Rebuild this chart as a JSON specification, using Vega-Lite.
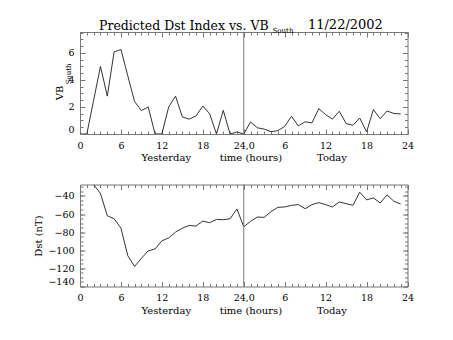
{
  "$schema": "https://vega.github.io/schema/vega-lite/v6.json",
  "padding": {"left": 33, "top": 18, "right": 0, "bottom": 4},
  "background": "white",
  "config": {
    "font": "DejaVu Serif",
    "view": {"stroke": null},
    "axis": {"grid": false, "labelFont": "DejaVu Serif", "titleFont": "DejaVu Serif", "labelFontSize": 9.5, "titleFontSize": 10, "titleFontWeight": "normal", "labelColor": "#000", "titleColor": "#000", "domainColor": "#777", "tickColor": "#777", "labelFlush": false, "labelOverlap": false, "labelBound": false},
    "concat": {"spacing": 20.5}
  },
  "datasets": {
    "vb": [
      {"h":0,"v":0},{"h":1,"v":0},{"h":2,"v":2.5},{"h":3,"v":5.0},{"h":4,"v":2.8},{"h":5,"v":6.07},{"h":6,"v":6.25},{"h":7,"v":4.3},{"h":8,"v":2.4},{"h":9,"v":1.73},{"h":10,"v":2.0},{"h":11,"v":0},{"h":12,"v":0},{"h":13,"v":2.0},{"h":14,"v":2.8},{"h":15,"v":1.26},{"h":16,"v":1.1},{"h":17,"v":1.33},{"h":18,"v":2.07},{"h":19,"v":1.5},{"h":20,"v":0},{"h":21,"v":1.75},{"h":22,"v":0},{"h":23,"v":0.15},
      {"h":24,"v":0},{"h":25,"v":0.89},{"h":26,"v":0.46},{"h":27,"v":0.36},{"h":28,"v":0.17},{"h":29,"v":0.25},{"h":30,"v":0.56},{"h":31,"v":1.31},{"h":32,"v":0.6},{"h":33,"v":0.9},{"h":34,"v":0.82},{"h":35,"v":1.87},{"h":36,"v":1.43},{"h":37,"v":1.1},{"h":38,"v":1.68},{"h":39,"v":0.78},{"h":40,"v":0.64},{"h":41,"v":1.18},{"h":42,"v":0.15},{"h":43,"v":1.81},{"h":44,"v":1.13},{"h":45,"v":1.7},{"h":46,"v":1.52},{"h":47,"v":1.48}
    ],
    "dst": [
      {"h":2,"v":-27.4},{"h":3,"v":-37.4},{"h":4,"v":-61.9},{"h":5,"v":-65.2},{"h":6,"v":-75.6},{"h":7,"v":-105.9},{"h":8,"v":-117.8},{"h":9,"v":-108.9},{"h":10,"v":-100.7},{"h":11,"v":-98.5},{"h":12,"v":-89.6},{"h":13,"v":-86.3},{"h":14,"v":-80},{"h":15,"v":-75.6},{"h":16,"v":-72.6},{"h":17,"v":-73.3},{"h":18,"v":-67.8},{"h":19,"v":-69.6},{"h":20,"v":-65.9},{"h":21,"v":-66.3},{"h":22,"v":-65.2},{"h":23,"v":-54.4},
      {"h":24,"v":-74.1},{"h":25,"v":-68.1},{"h":26,"v":-63.3},{"h":27,"v":-63.7},{"h":28,"v":-57.4},{"h":29,"v":-52.6},{"h":30,"v":-52.2},{"h":31,"v":-50.4},{"h":32,"v":-49.6},{"h":33,"v":-54.1},{"h":34,"v":-49.6},{"h":35,"v":-47.4},{"h":36,"v":-49.6},{"h":37,"v":-52.2},{"h":38,"v":-46.7},{"h":39,"v":-48.5},{"h":40,"v":-50.4},{"h":41,"v":-35.9},{"h":42,"v":-44.4},{"h":43,"v":-42.2},{"h":44,"v":-47.8},{"h":45,"v":-38.9},{"h":46,"v":-45.9},{"h":47,"v":-48.9}
    ],
    "marker": [{"h": 24}],
    "sub": [{"h": 29.75, "v": 7.6, "t": "South"}],
    "date": [{"h": 38.9, "v": 8.09, "t": "11/22/2002"}],
    "suby": [{"h": -1.6, "v": 4.45, "t": "South"}]
  },
  "vconcat": [
    {
      "width": 327.5,
      "height": 102,
      "title": {"text": "Predicted Dst Index vs. VB", "anchor": "start", "frame": "group", "dx": 19, "font": "DejaVu Serif", "fontSize": 12.5, "fontWeight": "normal", "color": "#000", "offset": -14},
      "resolve": {"axis": {"x": "independent", "y": "independent"}},
      "layer": [
        {
          "data": {"name": "vb"},
          "mark": {"type": "line", "color": "#333", "strokeWidth": 1, "clip": true},
          "encoding": {
            "x": {"field": "h", "type": "quantitative", "scale": {"domain": [0, 48], "nice": false, "zero": false},
                  "axis": {"orient": "bottom", "values": [0,6,12,18,24,30,36,42,48], "tickSize": -5, "labelPadding": 11, "labelExpr": "datum.value == 24 ? '24,0' : datum.value > 24 ? '' + (datum.value - 24) : '' + datum.value", "title": "Yesterday\u00a0\u00a0\u00a0\u00a0\u00a0\u00a0\u00a0\u00a0\u00a0time (hours)\u00a0\u00a0\u00a0\u00a0\u00a0\u00a0\u00a0\u00a0\u00a0\u00a0\u00a0Today", "titlePadding": 3}},
            "y": {"field": "v", "type": "quantitative", "scale": {"domain": [0, 7.54], "nice": false, "zero": false},
                  "axis": {"orient": "left", "values": [0,2,4,6], "tickSize": -5, "labelPadding": 11, "labelFlush": true, "title": "VB", "titleY": 60.5, "titlePadding": 3}}
          }
        },
        {
          "data": {"name": "marker"},
          "mark": {"type": "rule", "color": "#777", "strokeWidth": 1},
          "encoding": {
            "x": {"field": "h", "type": "quantitative", "scale": {"domain": [0, 48], "nice": false, "zero": false}, "axis": null}
          }
        },
        {
          "data": {"name": "vb"},
          "mark": {"type": "line", "opacity": 0},
          "encoding": {
            "x": {"field": "h", "type": "quantitative", "scale": {"domain": [0, 48], "nice": false, "zero": false},
                  "axis": {"orient": "bottom", "values": [0,1,2,3,4,5,6,7,8,9,10,11,12,13,14,15,16,17,18,19,20,21,22,23,24,25,26,27,28,29,30,31,32,33,34,35,36,37,38,39,40,41,42,43,44,45,46,47,48], "tickSize": -3, "labels": false, "domain": false, "title": null}},
            "y": {"field": "v", "type": "quantitative", "scale": {"domain": [0, 7.54], "nice": false, "zero": false},
                  "axis": {"orient": "left", "values": [0,0.5,1,1.5,2,2.5,3,3.5,4,4.5,5,5.5,6,6.5,7,7.5], "tickSize": -3, "labels": false, "domain": false, "title": null}}
          }
        },
        {
          "data": {"name": "vb"},
          "mark": {"type": "line", "opacity": 0},
          "encoding": {
            "x": {"field": "h", "type": "quantitative", "scale": {"domain": [0, 48], "nice": false, "zero": false},
                  "axis": {"orient": "top", "values": [0,6,12,18,24,30,36,42,48], "tickSize": -5, "labels": false, "domain": true, "title": null}},
            "y": {"field": "v", "type": "quantitative", "scale": {"domain": [0, 7.54], "nice": false, "zero": false},
                  "axis": {"orient": "right", "values": [0,2,4,6], "tickSize": -5, "labels": false, "domain": true, "title": null}}
          }
        },
        {
          "data": {"name": "vb"},
          "mark": {"type": "line", "opacity": 0},
          "encoding": {
            "x": {"field": "h", "type": "quantitative", "scale": {"domain": [0, 48], "nice": false, "zero": false},
                  "axis": {"orient": "top", "values": [0,1,2,3,4,5,6,7,8,9,10,11,12,13,14,15,16,17,18,19,20,21,22,23,24,25,26,27,28,29,30,31,32,33,34,35,36,37,38,39,40,41,42,43,44,45,46,47,48], "tickSize": -3, "labels": false, "domain": false, "title": null}},
            "y": {"field": "v", "type": "quantitative", "scale": {"domain": [0, 7.54], "nice": false, "zero": false},
                  "axis": {"orient": "right", "values": [0,0.5,1,1.5,2,2.5,3,3.5,4,4.5,5,5.5,6,6.5,7,7.5], "tickSize": -3, "labels": false, "domain": false, "title": null}}
          }
        },
        {
          "data": {"name": "sub"},
          "mark": {"type": "text", "font": "DejaVu Serif", "fontSize": 7, "color": "#000", "align": "center", "baseline": "middle"},
          "encoding": {
            "x": {"field": "h", "type": "quantitative", "scale": {"domain": [0, 48], "nice": false, "zero": false}, "axis": null},
            "y": {"field": "v", "type": "quantitative", "scale": {"domain": [0, 7.54], "nice": false, "zero": false}, "axis": null},
            "text": {"field": "t"}
          }
        },
        {
          "data": {"name": "date"},
          "mark": {"type": "text", "font": "DejaVu Serif", "fontSize": 13, "color": "#000", "align": "center", "baseline": "middle"},
          "encoding": {
            "x": {"field": "h", "type": "quantitative", "scale": {"domain": [0, 48], "nice": false, "zero": false}, "axis": null},
            "y": {"field": "v", "type": "quantitative", "scale": {"domain": [0, 7.54], "nice": false, "zero": false}, "axis": null},
            "text": {"field": "t"}
          }
        },
        {
          "data": {"name": "suby"},
          "mark": {"type": "text", "font": "DejaVu Serif", "fontSize": 7, "color": "#000", "align": "center", "baseline": "middle", "angle": 270},
          "encoding": {
            "x": {"field": "h", "type": "quantitative", "scale": {"domain": [0, 48], "nice": false, "zero": false}, "axis": null},
            "y": {"field": "v", "type": "quantitative", "scale": {"domain": [0, 7.54], "nice": false, "zero": false}, "axis": null},
            "text": {"field": "t"}
          }
        }
      ]
    },
    {
      "width": 327.5,
      "height": 102,
      "resolve": {"axis": {"x": "independent", "y": "independent"}},
      "layer": [
        {
          "data": {"name": "dst"},
          "mark": {"type": "line", "color": "#333", "strokeWidth": 1, "clip": true},
          "encoding": {
            "x": {"field": "h", "type": "quantitative", "scale": {"domain": [0, 48], "nice": false, "zero": false},
                  "axis": {"orient": "bottom", "values": [0,6,12,18,24,30,36,42,48], "tickSize": -5, "labelPadding": 11, "labelExpr": "datum.value == 24 ? '24,0' : datum.value > 24 ? '' + (datum.value - 24) : '' + datum.value", "title": "Yesterday\u00a0\u00a0\u00a0\u00a0\u00a0\u00a0\u00a0\u00a0\u00a0time (hours)\u00a0\u00a0\u00a0\u00a0\u00a0\u00a0\u00a0\u00a0\u00a0\u00a0\u00a0Today", "titlePadding": 3}},
            "y": {"field": "v", "type": "quantitative", "scale": {"domain": [-140, -27.4], "nice": false, "zero": false},
                  "axis": {"orient": "left", "values": [-140,-120,-100,-80,-60,-40], "tickSize": -5, "labelPadding": 11, "labelFlush": true, "title": "Dst (nT)", "titlePadding": 4}}
          }
        },
        {
          "data": {"name": "marker"},
          "mark": {"type": "rule", "color": "#777", "strokeWidth": 1},
          "encoding": {
            "x": {"field": "h", "type": "quantitative", "scale": {"domain": [0, 48], "nice": false, "zero": false}, "axis": null}
          }
        },
        {
          "data": {"name": "dst"},
          "mark": {"type": "line", "opacity": 0},
          "encoding": {
            "x": {"field": "h", "type": "quantitative", "scale": {"domain": [0, 48], "nice": false, "zero": false},
                  "axis": {"orient": "bottom", "values": [0,1,2,3,4,5,6,7,8,9,10,11,12,13,14,15,16,17,18,19,20,21,22,23,24,25,26,27,28,29,30,31,32,33,34,35,36,37,38,39,40,41,42,43,44,45,46,47,48], "tickSize": -3, "labels": false, "domain": false, "title": null}},
            "y": {"field": "v", "type": "quantitative", "scale": {"domain": [-140, -27.4], "nice": false, "zero": false},
                  "axis": {"orient": "left", "values": [-140,-135,-130,-125,-120,-115,-110,-105,-100,-95,-90,-85,-80,-75,-70,-65,-60,-55,-50,-45,-40,-35,-30], "tickSize": -3, "labels": false, "domain": false, "title": null}}
          }
        },
        {
          "data": {"name": "dst"},
          "mark": {"type": "line", "opacity": 0},
          "encoding": {
            "x": {"field": "h", "type": "quantitative", "scale": {"domain": [0, 48], "nice": false, "zero": false},
                  "axis": {"orient": "top", "values": [0,6,12,18,24,30,36,42,48], "tickSize": -5, "labels": false, "domain": true, "title": null}},
            "y": {"field": "v", "type": "quantitative", "scale": {"domain": [-140, -27.4], "nice": false, "zero": false},
                  "axis": {"orient": "right", "values": [-140,-120,-100,-80,-60,-40], "tickSize": -5, "labels": false, "domain": true, "title": null}}
          }
        },
        {
          "data": {"name": "dst"},
          "mark": {"type": "line", "opacity": 0},
          "encoding": {
            "x": {"field": "h", "type": "quantitative", "scale": {"domain": [0, 48], "nice": false, "zero": false},
                  "axis": {"orient": "top", "values": [0,1,2,3,4,5,6,7,8,9,10,11,12,13,14,15,16,17,18,19,20,21,22,23,24,25,26,27,28,29,30,31,32,33,34,35,36,37,38,39,40,41,42,43,44,45,46,47,48], "tickSize": -3, "labels": false, "domain": false, "title": null}},
            "y": {"field": "v", "type": "quantitative", "scale": {"domain": [-140, -27.4], "nice": false, "zero": false},
                  "axis": {"orient": "right", "values": [-140,-135,-130,-125,-120,-115,-110,-105,-100,-95,-90,-85,-80,-75,-70,-65,-60,-55,-50,-45,-40,-35,-30], "tickSize": -3, "labels": false, "domain": false, "title": null}}
          }
        }
      ]
    }
  ]
}
